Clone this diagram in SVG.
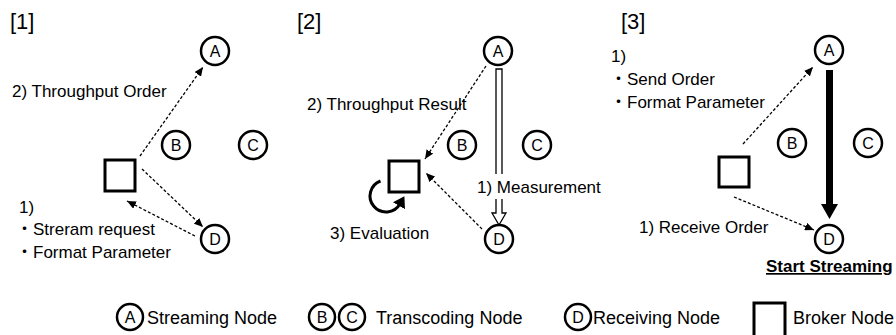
<svg xmlns="http://www.w3.org/2000/svg" width="896" height="335" viewBox="0 0 896 335">
  <defs>
    <style>
      text { font-family: "Liberation Sans", "Noto Sans CJK JP", sans-serif; fill: #000; }
      .lbl { font-size: 17px; }
      .ttl { font-size: 22px; }
      .leg { font-size: 18px; }
      .node circle { fill: #fff; stroke: #000; stroke-width: 2.5; }
      .node text { font-size: 16px; text-anchor: middle; dominant-baseline: central; }
      .broker rect { fill: #fff; stroke: #000; stroke-width: 3; }
      .dash { fill: none; stroke: #000; stroke-width: 1.3; stroke-dasharray: 3 2; marker-end: url(#head); }
    </style>
    <marker id="head" markerUnits="userSpaceOnUse" markerWidth="10" markerHeight="8" refX="9" refY="4" orient="auto">
      <path d="M0,0 L9,4 L0,8 z" fill="#000"/>
    </marker>
    <marker id="loopHead" markerUnits="userSpaceOnUse" markerWidth="12" markerHeight="14" refX="2" refY="7" orient="auto">
      <path d="M0,0 L11,7 L0,14 z" fill="#000"/>
    </marker>
  </defs>
  <rect width="896" height="335" fill="#fff"/>

  <!-- panel titles -->
  <text class="ttl" x="10" y="29">[1]</text>
  <text class="ttl" x="297" y="29">[2]</text>
  <text class="ttl" x="621" y="29">[3]</text>

  <!-- connectors -->
  <g id="connectors">
    <!-- [1] -->
    <line class="dash" x1="140" y1="156" x2="203" y2="67"/>
    <line class="dash" x1="142" y1="169" x2="203" y2="227"/>
    <line class="dash" x1="195" y1="236" x2="127" y2="201"/>
    <!-- [2] -->
    <line class="dash" x1="486" y1="66" x2="425" y2="159"/>
    <line class="dash" x1="482" y1="229" x2="426" y2="173"/>
    <path d="M496,69 H502 V213 H506 L499,225 L492,213 H496 Z" fill="#fff" stroke="#000" stroke-width="1.3"/>
    <path d="M380.5,181 A16,16 0 1 0 399.9,204" fill="none" stroke="#000" stroke-width="3" marker-end="url(#loopHead)"/>
    <!-- [3] -->
    <line class="dash" x1="743" y1="144" x2="813" y2="67"/>
    <line class="dash" x1="734" y1="197" x2="814" y2="230"/>
    <path d="M826,70 H833 V204 H838 L829.5,219 L821,204 H826 Z" fill="#000"/>
  </g>

  <!-- [1] nodes -->
  <g id="n1-A" class="node"><circle cx="215" cy="51" r="14"/><text x="215" y="51">A</text></g>
  <g id="n1-B" class="node"><circle cx="176" cy="145" r="14"/><text x="176" y="145">B</text></g>
  <g id="n1-C" class="node"><circle cx="253" cy="145" r="14"/><text x="253" y="145">C</text></g>
  <g id="n1-D" class="node"><circle cx="215" cy="239" r="14"/><text x="215" y="239">D</text></g>
  <g id="n1-broker" class="broker"><rect x="105" y="160" width="30" height="31"/></g>

  <!-- [2] nodes -->
  <g id="n2-A" class="node"><circle cx="498" cy="51" r="14"/><text x="498" y="51">A</text></g>
  <g id="n2-B" class="node"><circle cx="462" cy="145" r="14"/><text x="462" y="145">B</text></g>
  <g id="n2-C" class="node"><circle cx="537" cy="145" r="14"/><text x="537" y="145">C</text></g>
  <g id="n2-D" class="node"><circle cx="499" cy="239" r="14"/><text x="499" y="239">D</text></g>
  <g id="n2-broker" class="broker"><rect x="389" y="161" width="30" height="31"/></g>

  <!-- [3] nodes -->
  <g id="n3-A" class="node"><circle cx="829" cy="50" r="14"/><text x="829" y="50">A</text></g>
  <g id="n3-B" class="node"><circle cx="792" cy="143" r="14"/><text x="792" y="143">B</text></g>
  <g id="n3-C" class="node"><circle cx="868" cy="143" r="14"/><text x="868" y="143">C</text></g>
  <g id="n3-D" class="node"><circle cx="829" cy="239" r="14"/><text x="829" y="239">D</text></g>
  <g id="n3-broker" class="broker"><rect x="719" y="157" width="30" height="30"/></g>

  <!-- [1] labels -->
  <text class="lbl" x="12" y="97">2) Throughput Order</text>
  <text class="lbl" x="19" y="213">1)</text>
  <text class="lbl" x="16" y="235">・Streram request</text>
  <text class="lbl" x="16" y="258">・Format Parameter</text>

  <!-- [2] labels -->
  <text class="lbl" x="307" y="110">2) Throughput Result</text>
  <rect x="475" y="174" width="130" height="25" fill="#fff"/>
  <text class="lbl" x="477" y="193">1) Measurement</text>
  <text class="lbl" x="330" y="239">3) Evaluation</text>

  <!-- [3] labels -->
  <text class="lbl" x="611" y="62">1)</text>
  <text class="lbl" x="610" y="85">・Send Order</text>
  <text class="lbl" x="610" y="108">・Format Parameter</text>
  <text class="lbl" x="639" y="233">1) Receive Order</text>
  <text class="lbl" x="766" y="272" font-weight="bold" text-decoration="underline">Start Streaming</text>

  <!-- legend -->
  <g id="legend">
    <g id="leg-A" class="node"><circle cx="130" cy="317" r="13"/><text x="130" y="317">A</text></g>
    <text class="leg" x="147" y="324">Streaming Node</text>
    <g id="leg-B" class="node"><circle cx="322" cy="317" r="13"/><text x="322" y="317">B</text></g>
    <g id="leg-C" class="node"><circle cx="352" cy="317" r="13"/><text x="352" y="317">C</text></g>
    <text class="leg" x="376" y="324">Transcoding Node</text>
    <g id="leg-D" class="node"><circle cx="578" cy="317" r="13"/><text x="578" y="317">D</text></g>
    <text class="leg" x="593" y="324">Receiving Node</text>
    <g id="leg-broker" class="broker"><rect x="754" y="303" width="31" height="36"/></g>
    <text class="leg" x="793" y="324">Broker Node</text>
  </g>
</svg>
